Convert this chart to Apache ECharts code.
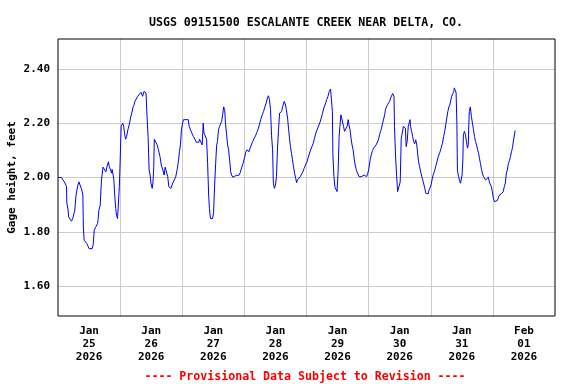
<!DOCTYPE html>
<html>
<head>
<meta charset="utf-8">
<script src="https://cdn.jsdelivr.net/npm/echarts@6/dist/echarts.min.js"></script>
<style>html,body{margin:0;padding:0;background:#fff}#c{width:576px;height:384px}</style>
</head>
<body>
<div id="c"></div>
<script>
const chartTitle = 'USGS 09151500 ESCALANTE CREEK NEAR DELTA, CO.';
const yAxisTitle = 'Gage height, feet';
const footerText = '---- Provisional Data Subject to Revision ----';
const dayLabels = ['Jan\n25\n2026','Jan\n26\n2026','Jan\n27\n2026','Jan\n28\n2026','Jan\n29\n2026','Jan\n30\n2026','Jan\n31\n2026','Feb\n01\n2026'];
const yTickValues = [1.60, 1.80, 2.00, 2.20, 2.40];
const yMin = 1.49, yMax = 2.51;
// [hours since Jan 25 2026 00:00, gage height ft]
const readings = [
[0.0,2.000],[1.3,2.000],[1.8,1.995],[2.2,1.987],[2.9,1.976],[3.3,1.966],[3.4,1.907],[3.9,1.880],[4.1,1.855],[4.7,1.849],
[5.2,1.839],[5.7,1.849],[6.2,1.855],[6.5,1.880],[6.9,1.929],[7.3,1.954],[7.8,1.976],[8.1,1.984],[8.5,1.988],[8.8,1.978],
[9.2,1.954],[9.6,1.935],[9.8,1.818],[10.1,1.769],[10.7,1.767],[11.1,1.757],[11.6,1.747],[12.0,1.738],[13.2,1.738],[13.6,1.753],
[14.0,1.806],[14.5,1.816],[15.0,1.818],[15.3,1.831],[15.5,1.845],[15.8,1.880],[16.3,1.898],[16.8,1.991],[17.4,2.038],[18.1,2.038],
[18.5,2.021],[18.9,2.040],[19.2,2.046],[19.5,2.058],[19.8,2.040],[20.3,2.028],[20.7,2.016],[20.9,2.030],[21.3,2.009],[21.6,1.991],
[21.9,1.935],[22.3,1.886],[22.6,1.861],[23.0,1.849],[23.4,1.855],[23.7,1.966],[24.0,2.058],[24.4,2.188],[25.0,2.200],[25.4,2.188],
[25.7,2.163],[26.1,2.141],[26.5,2.151],[27.0,2.176],[27.5,2.194],[28.1,2.223],[28.5,2.237],[29.0,2.260],[29.4,2.268],[29.7,2.280],
[30.1,2.287],[30.8,2.299],[31.3,2.293],[32.1,2.314],[32.7,2.299],[33.2,2.317],[33.7,2.323],[34.0,2.311],[34.4,2.225],[34.8,2.151],
[35.2,2.028],[35.6,2.009],[35.9,1.979],[36.4,1.960],[36.7,1.984],[37.0,2.040],[37.2,2.141],[37.9,2.141],[38.3,2.120],[38.8,2.102],
[39.4,2.077],[39.9,2.046],[40.5,2.028],[41.0,2.009],[41.4,2.038],[42.1,2.038],[42.4,2.003],[42.8,1.966],[43.6,1.960],[44.2,1.976],
[44.9,1.991],[45.5,2.003],[46.0,2.028],[46.5,2.058],[46.9,2.095],[47.3,2.120],[47.7,2.176],[48.1,2.200],[48.5,2.213],[49.4,2.213],
[50.3,2.213],[50.7,2.188],[51.1,2.178],[51.5,2.169],[51.8,2.161],[52.3,2.151],[52.9,2.141],[53.4,2.130],[54.4,2.130],[54.7,2.141],
[55.4,2.141],[55.7,2.120],[56.1,2.200],[56.4,2.163],[56.9,2.153],[57.4,2.141],[57.8,2.052],[58.2,1.935],[58.5,1.886],[58.9,1.849],
[59.7,1.849],[60.1,1.870],[60.5,1.969],[60.9,2.052],[61.3,2.120],[61.6,2.132],[62.0,2.176],[62.4,2.188],[62.8,2.182],[63.2,2.206],
[63.6,2.231],[64.0,2.260],[64.4,2.250],[64.7,2.200],[65.1,2.163],[65.5,2.120],[65.9,2.102],[66.3,2.065],[66.7,2.021],[67.1,2.009],
[67.5,2.001],[68.2,2.001],[68.9,2.008],[69.9,2.008],[70.4,2.018],[71.0,2.038],[71.5,2.052],[72.0,2.071],[72.5,2.092],[73.0,2.102],
[73.4,2.108],[73.8,2.095],[74.2,2.108],[74.7,2.120],[75.2,2.132],[75.8,2.145],[76.3,2.153],[76.8,2.166],[77.3,2.178],[77.8,2.194],
[78.3,2.213],[78.9,2.231],[79.4,2.243],[79.9,2.250],[80.4,2.274],[80.9,2.293],[81.3,2.301],[81.7,2.287],[82.1,2.250],[82.5,2.155],
[82.9,2.102],[83.2,1.979],[83.6,1.960],[84.0,1.972],[84.4,2.003],[84.8,2.108],[85.2,2.176],[85.6,2.237],[86.0,2.231],[86.4,2.243],
[86.8,2.262],[87.4,2.280],[87.8,2.271],[88.2,2.250],[88.7,2.219],[89.1,2.176],[89.5,2.139],[89.8,2.114],[90.2,2.089],[90.6,2.065],
[91.0,2.038],[91.4,2.016],[91.8,1.997],[92.2,1.981],[92.5,1.991],[93.1,1.991],[93.6,2.003],[94.1,2.013],[94.6,2.021],[95.1,2.034],
[95.6,2.046],[96.2,2.058],[96.7,2.075],[97.2,2.079],[97.6,2.102],[98.1,2.114],[98.6,2.126],[99.1,2.145],[99.6,2.163],[100.2,2.178],
[100.7,2.190],[101.2,2.203],[101.7,2.219],[102.2,2.237],[102.7,2.256],[103.3,2.271],[103.8,2.287],[104.3,2.299],[104.8,2.317],[105.3,2.326],
[105.7,2.323],[106.0,2.243],[106.2,2.083],[106.6,2.003],[107.0,1.964],[107.4,1.960],[107.8,1.948],[108.2,2.021],[108.6,2.151],[108.9,2.188],
[109.3,2.231],[109.9,2.228],[110.3,2.188],[110.7,2.170],[111.3,2.170],[111.7,2.188],[112.1,2.213],[112.4,2.194],[112.8,2.176],[113.2,2.145],
[113.6,2.120],[114.0,2.102],[114.4,2.071],[114.8,2.046],[115.2,2.030],[115.5,2.021],[115.9,2.013],[116.3,2.003],[117.1,2.003],[117.5,2.009],
[118.3,2.009],[118.6,2.003],[119.2,2.003],[119.6,2.013],[120.0,2.028],[120.3,2.046],[120.7,2.071],[121.1,2.087],[121.5,2.099],[121.9,2.108],
[122.4,2.114],[122.9,2.120],[123.4,2.126],[123.8,2.139],[124.2,2.157],[124.6,2.170],[125.0,2.182],[125.4,2.200],[125.8,2.215],[126.2,2.231],
[126.5,2.250],[126.9,2.260],[127.3,2.268],[127.7,2.271],[128.1,2.280],[128.5,2.293],[128.9,2.299],[129.3,2.309],[129.5,2.314],[129.8,2.299],
[130.0,2.188],[130.4,2.079],[130.8,2.009],[131.2,1.948],[131.8,1.948],[132.2,1.984],[132.6,2.145],[133.0,2.163],[133.4,2.188],[133.8,2.194],
[134.2,2.182],[134.5,2.114],[134.9,2.132],[135.3,2.188],[135.7,2.194],[136.0,2.213],[136.2,2.188],[136.6,2.170],[137.0,2.151],[137.4,2.132],
[137.8,2.124],[138.2,2.139],[138.6,2.120],[139.0,2.083],[139.3,2.058],[139.7,2.040],[140.1,2.021],[140.5,2.005],[140.9,1.991],[141.3,1.976],
[141.7,1.960],[142.1,1.942],[142.5,1.940],[143.0,1.940],[143.3,1.952],[143.7,1.958],[144.1,1.972],[144.5,1.991],[144.9,2.009],[145.4,2.021],
[145.9,2.040],[146.4,2.058],[146.9,2.077],[147.5,2.092],[148.0,2.108],[148.5,2.126],[149.0,2.151],[149.4,2.170],[149.8,2.194],[150.2,2.219],
[150.6,2.243],[151.0,2.260],[151.4,2.268],[151.8,2.287],[152.1,2.299],[152.5,2.309],[152.9,2.317],[153.1,2.330],[153.5,2.321],[153.8,2.311],
[154.1,2.194],[154.3,2.028],[154.7,2.005],[155.1,1.991],[155.5,1.979],[155.9,1.979],[156.1,2.009],[156.4,2.065],[156.6,2.157],[157.0,2.170],
[157.4,2.157],[157.8,2.132],[158.2,2.108],[158.5,2.120],[158.7,2.194],[158.9,2.243],[159.3,2.260],[159.7,2.225],[160.1,2.200],[160.5,2.176],
[160.9,2.151],[161.3,2.132],[161.7,2.120],[162.1,2.102],[162.5,2.089],[162.8,2.071],[163.2,2.052],[163.6,2.030],[164.0,2.013],[164.4,2.003],
[164.8,1.997],[165.2,1.991],[165.9,1.991],[166.3,2.001],[166.6,1.984],[167.0,1.979],[167.4,1.966],[167.8,1.948],[168.2,1.923],[168.6,1.911],
[168.9,1.915],[169.7,1.915],[170.1,1.925],[170.5,1.935],[171.3,1.940],[171.7,1.945],[172.0,1.948],[172.4,1.966],[172.8,1.979],[173.2,2.016],
[173.6,2.028],[174.0,2.052],[174.4,2.062],[174.8,2.077],[175.2,2.095],[175.6,2.111],[176.0,2.139],[176.4,2.161],[176.6,2.173]
];

const HOUR = 3600000;
const startMs = new Date(2026, 0, 25, 0, 0, 0).getTime();
const endMs = startMs + dayLabels.length * 24 * HOUR;
const seriesData = readings.map(r => [startMs + r[0] * HOUR, r[1]]);

// split line colours cycle per 0.01 tick; show grey only on labelled values
const nTicks = Math.round((yMax - yMin) / 0.01) + 1;
const splitColors = [];
for (let i = 0; i < nTicks; i++) {
  const v = Math.round((yMin + i * 0.01) * 100);
  splitColors.push(yTickValues.some(t => Math.round(t * 100) === v) ? '#cccccc' : 'rgba(0,0,0,0)');
}

const FONT = 'DejaVu Sans Mono';
const chart = echarts.init(document.getElementById('c'), null, {renderer: 'canvas'});
chart.setOption({
  animation: false,
  backgroundColor: '#ffffff',
  title: [{
    text: chartTitle, left: 301, top: 12, textAlign: 'center',
    textStyle: {fontFamily: FONT, fontWeight: 'bold', fontSize: 11.6, color: '#000'}
  }, {
    text: footerText, left: 300, top: 366, textAlign: 'center',
    textStyle: {fontFamily: FONT, fontWeight: 'bold', fontSize: 11.6, color: '#ff0000'}
  }],
  grid: {left: 58, right: 21, top: 39, bottom: 68, show: true, borderColor: '#000', borderWidth: 1,
         backgroundColor: 'transparent', containLabel: false, outerBoundsMode: 'none', z: 3},
  xAxis: [{
    type: 'time', min: startMs, max: endMs, show: false
  }, {
    type: 'category', data: dayLabels, boundaryGap: true, position: 'bottom',
    axisLine: {show: false}, axisTick: {show: false},
    splitLine: {show: true, showMinLine: false, showMaxLine: false, lineStyle: {color: '#cccccc', width: 1}},
    axisLabel: {fontFamily: FONT, fontWeight: 'bold', fontSize: 11, color: '#000', lineHeight: 13, margin: 9}
  }],
  yAxis: {
    type: 'value', min: yMin, max: yMax, interval: 0.01,
    name: yAxisTitle, nameLocation: 'middle', nameGap: 40, nameRotate: 90, nameMoveOverlap: false,
    nameTextStyle: {fontFamily: FONT, fontWeight: 'bold', fontSize: 11, color: '#000'},
    axisLine: {show: false}, axisTick: {show: false},
    splitLine: {show: true, showMinLine: true, showMaxLine: true, lineStyle: {color: splitColors, width: 1}},
    axisLabel: {
      fontFamily: FONT, fontWeight: 'bold', fontSize: 11, color: '#000', margin: 8,
      formatter: function (v) {
        const r = Math.round(v * 100);
        return yTickValues.some(t => Math.round(t * 100) === r) ? (r / 100).toFixed(2) : '';
      }
    }
  },
  series: [{
    type: 'line', xAxisIndex: 0, data: seriesData, showSymbol: false, symbol: 'none',
    lineStyle: {color: '#0000ff', width: 1}, z: 5
  }]
});
</script>
</body>
</html>
